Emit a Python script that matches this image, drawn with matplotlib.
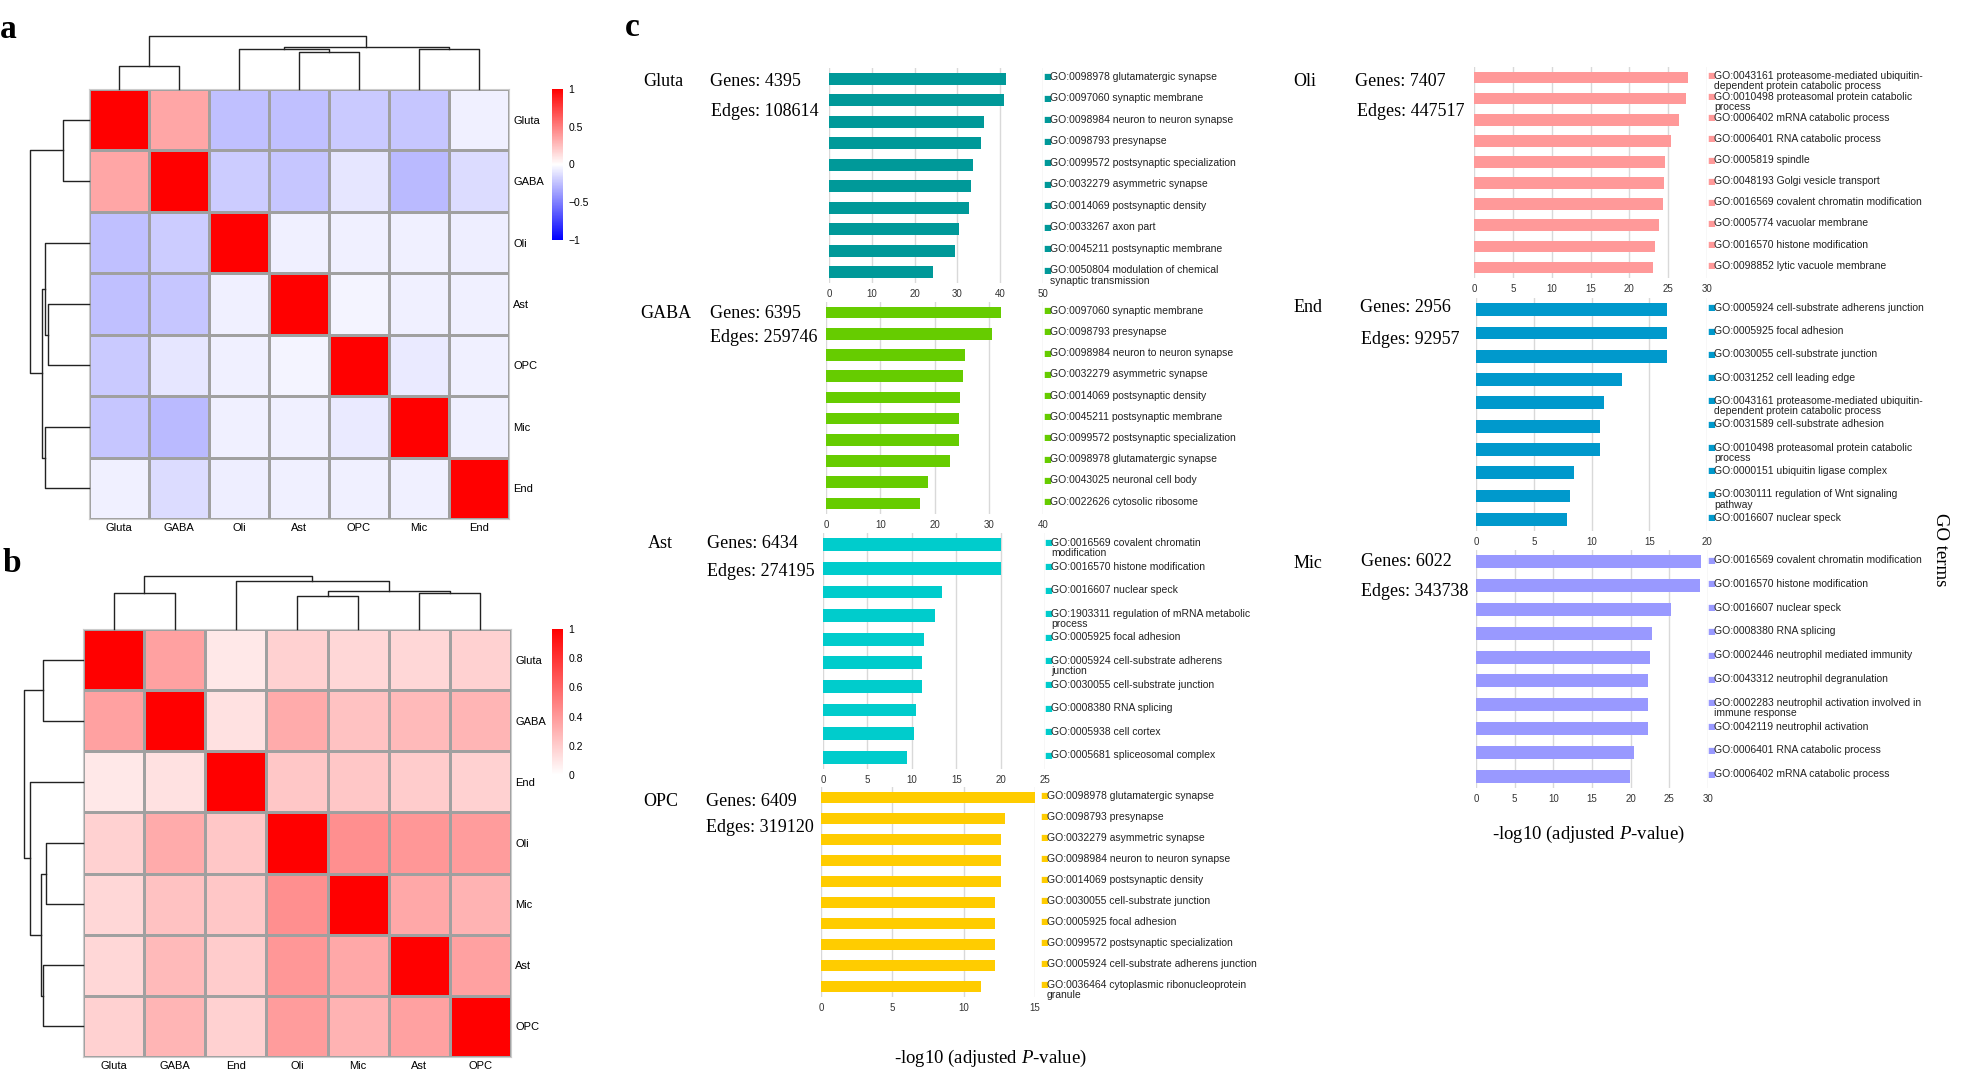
import numpy as np
import matplotlib.pyplot as plt
from matplotlib.colors import LinearSegmentedColormap
from matplotlib import transforms

plt.rcParams['font.family'] = ['Liberation Sans', 'DejaVu Sans']
plt.rcParams['mathtext.fontset'] = 'custom'
plt.rcParams['mathtext.rm'] = 'Liberation Serif'
plt.rcParams['mathtext.it'] = 'Liberation Serif:italic'

# ---------------- datos de los heatmaps ----------------
cells_a = ['Gluta', 'GABA', 'Oli', 'Ast', 'OPC', 'Mic', 'End']
corr_a = [
    [1.00, 0.35, -0.25, -0.25, -0.21, -0.22, -0.06],
    [0.35, 1.00, -0.20, -0.22, -0.10, -0.27, -0.14],
    [-0.25, -0.20, 1.00, -0.06, -0.06, -0.06, -0.07],
    [-0.25, -0.22, -0.06, 1.00, -0.04, -0.06, -0.06],
    [-0.21, -0.10, -0.06, -0.04, 1.00, -0.08, -0.06],
    [-0.22, -0.27, -0.06, -0.06, -0.08, 1.00, -0.06],
    [-0.06, -0.14, -0.07, -0.06, -0.06, -0.06, 1.00],
]
# (hijo1, hijo2, altura) ; hojas 0..6, nodos nuevos desde 7
link_a = [(0, 1, 0.44), (3, 4, 0.70), (2, 8, 0.75), (5, 6, 0.75), (9, 10, 0.80), (7, 11, 1.0)]

cells_b = ['Gluta', 'GABA', 'End', 'Oli', 'Mic', 'Ast', 'OPC']
corr_b = [
    [1.00, 0.37, 0.09, 0.18, 0.16, 0.16, 0.18],
    [0.37, 1.00, 0.12, 0.33, 0.24, 0.27, 0.29],
    [0.09, 0.12, 1.00, 0.22, 0.22, 0.20, 0.18],
    [0.18, 0.33, 0.22, 1.00, 0.44, 0.41, 0.39],
    [0.16, 0.24, 0.22, 0.44, 1.00, 0.34, 0.30],
    [0.16, 0.27, 0.20, 0.41, 0.34, 1.00, 0.37],
    [0.18, 0.29, 0.18, 0.39, 0.30, 0.37, 1.00],
]
link_b = [(0, 1, 0.68), (3, 4, 0.63), (5, 6, 0.68), (8, 9, 0.72), (2, 10, 0.90), (7, 11, 1.0)]

# ---------------- datos de enriquecimiento GO ----------------
groups = ['Gluta', 'GABA', 'Ast', 'OPC', 'Oli', 'End', 'Mic']
genes = [4395, 6395, 6434, 6409, 7407, 2956, 6022]
edges = [108614, 259746, 274195, 319120, 447517, 92957, 343738]

gluta_terms = ['GO:0098978 glutamatergic synapse', 'GO:0097060 synaptic membrane',
               'GO:0098984 neuron to neuron synapse', 'GO:0098793 presynapse',
               'GO:0099572 postsynaptic specialization', 'GO:0032279 asymmetric synapse',
               'GO:0014069 postsynaptic density', 'GO:0033267 axon part',
               'GO:0045211 postsynaptic membrane',
               'GO:0050804 modulation of chemical\nsynaptic transmission']
gluta_vals = [41.4, 40.8, 36.2, 35.5, 33.6, 33.1, 32.8, 30.4, 29.5, 24.3]

gaba_terms = ['GO:0097060 synaptic membrane', 'GO:0098793 presynapse',
              'GO:0098984 neuron to neuron synapse', 'GO:0032279 asymmetric synapse',
              'GO:0014069 postsynaptic density', 'GO:0045211 postsynaptic membrane',
              'GO:0099572 postsynaptic specialization', 'GO:0098978 glutamatergic synapse',
              'GO:0043025 neuronal cell body', 'GO:0022626 cytosolic ribosome']
gaba_vals = [32.2, 30.6, 25.6, 25.2, 24.7, 24.5, 24.5, 22.8, 18.8, 17.4]

ast_terms = ['GO:0016569 covalent chromatin\nmodification', 'GO:0016570 histone modification',
             'GO:0016607 nuclear speck', 'GO:1903311 regulation of mRNA metabolic\nprocess',
             'GO:0005925 focal adhesion', 'GO:0005924 cell-substrate adherens\njunction',
             'GO:0030055 cell-substrate junction', 'GO:0008380 RNA splicing',
             'GO:0005938 cell cortex', 'GO:0005681 spliceosomal complex']
ast_vals = [20.0, 20.0, 13.4, 12.6, 11.4, 11.1, 11.1, 10.5, 10.2, 9.5]

opc_terms = ['GO:0098978 glutamatergic synapse', 'GO:0098793 presynapse',
             'GO:0032279 asymmetric synapse', 'GO:0098984 neuron to neuron synapse',
             'GO:0014069 postsynaptic density', 'GO:0030055 cell-substrate junction',
             'GO:0005925 focal adhesion', 'GO:0099572 postsynaptic specialization',
             'GO:0005924 cell-substrate adherens junction',
             'GO:0036464 cytoplasmic ribonucleoprotein\ngranule']
opc_vals = [15.0, 12.9, 12.6, 12.6, 12.6, 12.2, 12.2, 12.2, 12.2, 11.2]

oli_terms = ['GO:0043161 proteasome-mediated ubiquitin-\ndependent protein catabolic process',
             'GO:0010498 proteasomal protein catabolic\nprocess', 'GO:0006402 mRNA catabolic process',
             'GO:0006401 RNA catabolic process', 'GO:0005819 spindle',
             'GO:0048193 Golgi vesicle transport', 'GO:0016569 covalent chromatin modification',
             'GO:0005774 vacuolar membrane', 'GO:0016570 histone modification',
             'GO:0098852 lytic vacuole membrane']
oli_vals = [27.5, 27.3, 26.4, 25.4, 24.6, 24.4, 24.3, 23.8, 23.3, 23.0]

end_terms = ['GO:0005924 cell-substrate adherens junction', 'GO:0005925 focal adhesion',
             'GO:0030055 cell-substrate junction', 'GO:0031252 cell leading edge',
             'GO:0043161 proteasome-mediated ubiquitin-\ndependent protein catabolic process',
             'GO:0031589 cell-substrate adhesion',
             'GO:0010498 proteasomal protein catabolic\nprocess', 'GO:0000151 ubiquitin ligase complex',
             'GO:0030111 regulation of Wnt signaling\npathway', 'GO:0016607 nuclear speck']
end_vals = [16.5, 16.5, 16.5, 12.6, 11.1, 10.7, 10.7, 8.5, 8.1, 7.9]

mic_terms = ['GO:0016569 covalent chromatin modification', 'GO:0016570 histone modification',
             'GO:0016607 nuclear speck', 'GO:0008380 RNA splicing',
             'GO:0002446 neutrophil mediated immunity', 'GO:0043312 neutrophil degranulation',
             'GO:0002283 neutrophil activation involved in\nimmune response',
             'GO:0042119 neutrophil activation', 'GO:0006401 RNA catabolic process',
             'GO:0006402 mRNA catabolic process']
mic_vals = [29.1, 29.0, 25.2, 22.8, 22.5, 22.2, 22.2, 22.2, 20.4, 19.9]

terms = {'Gluta': gluta_terms, 'GABA': gaba_terms, 'Ast': ast_terms, 'OPC': opc_terms,
         'Oli': oli_terms, 'End': end_terms, 'Mic': mic_terms}
vals = {'Gluta': gluta_vals, 'GABA': gaba_vals, 'Ast': ast_vals, 'OPC': opc_vals,
        'Oli': oli_vals, 'End': end_vals, 'Mic': mic_vals}

# posiciones (pixeles) y estilos de cada panel
layout = {
    'Gluta': dict(box=(829, 68, 1043, 283), xmax=50, step=10, leg=1043, name=(643, 82), gen=(710, 82), edg=(711, 111), color='#009999'),
    'GABA': dict(box=(826, 302, 1043, 514), xmax=40, step=10, leg=1043, name=(640, 314), gen=(710, 314), edg=(710, 338), color='#66CC00'),
    'Ast': dict(box=(823, 533, 1045, 769), xmax=25, step=5, leg=1044, name=(648, 543), gen=(707, 543), edg=(707, 572), color='#00CCCC'),
    'OPC': dict(box=(821, 787, 1035, 997), xmax=15, step=5, leg=1040, name=(643, 801), gen=(706, 801), edg=(706, 827), color='#FFCC00'),
    'Oli': dict(box=(1474, 67, 1707, 278), xmax=30, step=5, leg=1707, name=(1293, 82), gen=(1355, 82), edg=(1357, 111), color='#FF9999'),
    'End': dict(box=(1476, 298, 1707, 531), xmax=20, step=5, leg=1707, name=(1294, 308), gen=(1360, 308), edg=(1361, 339), color='#0099CC'),
    'Mic': dict(box=(1476, 550, 1708, 788), xmax=30, step=5, leg=1707, name=(1294, 563), gen=(1361, 561), edg=(1361, 592), color='#9999FF'),
}

W, H = 1961, 1070
fig = plt.figure(figsize=(W / 100, H / 100), dpi=100)


def add_ax(x0, y0, x1, y1):
    return fig.add_axes([x0 / W, 1 - y1 / H, (x1 - x0) / W, (y1 - y0) / H])


def draw_dendro(ax, links, n, orient):
    pos = {i: i + 0.5 for i in range(n)}
    hgt = {i: 0.0 for i in range(n)}
    for k, (a, b, h) in enumerate(links):
        p = [pos[a], pos[a], pos[b], pos[b]]
        q = [hgt[a], h, h, hgt[b]]
        if orient == 'top':
            ax.plot(p, q, color='#222222', lw=1.0, clip_on=False)
        else:
            ax.plot(q, p, color='#222222', lw=1.0, clip_on=False)
        pos[n + k] = (pos[a] + pos[b]) / 2
        hgt[n + k] = h
    if orient == 'top':
        ax.set_xlim(0, n)
        ax.set_ylim(0, 1)
    else:
        ax.set_ylim(n, 0)
        ax.set_xlim(1, 0)
    ax.axis('off')


def draw_heatmap(box, cbox, mat, labels, links, cmap, vmin, vmax, cticks, clabels):
    x0, y0, x1, y1 = box
    n = len(labels)
    ax = add_ax(x0, y0, x1, y1)
    mesh = ax.pcolormesh(np.array(mat), cmap=cmap, vmin=vmin, vmax=vmax,
                         edgecolors='#a0a0a0', linewidth=0.9)
    ax.set_xlim(0, n)
    ax.set_ylim(n, 0)
    ax.set_xticks(np.arange(n) + 0.5)
    ax.set_xticklabels(labels, fontsize=8)
    ax.yaxis.tick_right()
    ax.set_yticks(np.arange(n) + 0.5)
    ax.set_yticklabels(labels, fontsize=8)
    ax.tick_params(length=0, pad=3)
    for s in ax.spines.values():
        s.set_color('#cccccc')
    # dendrogramas
    dtop = add_ax(x0, y0 - 53, x1, y0)
    draw_dendro(dtop, links, n, 'top')
    dleft = add_ax(x0 - 59, y0, x0, y1)
    draw_dendro(dleft, links, n, 'left')
    cax = add_ax(*cbox)
    cb = fig.colorbar(mesh, cax=cax)
    cb.outline.set_visible(False)
    cb.set_ticks(cticks)
    cb.set_ticklabels(clabels)
    cax.tick_params(length=0, labelsize=7.5, pad=4)


draw_heatmap((89, 89, 509, 519), (552, 89, 563, 240), corr_a, cells_a, link_a, 'bwr', -1, 1,
             [1, 0.5, 0, -0.5, -1], ['1', '0.5', '0', '\u22120.5', '\u22121'])
white_red = LinearSegmentedColormap.from_list('wr', ['#ffffff', '#ff0000'])
draw_heatmap((83, 629, 511, 1057), (552, 629, 563, 775), corr_b, cells_b, link_b, white_red, 0, 1,
             [0, 0.2, 0.4, 0.6, 0.8, 1], ['0', '0.2', '0.4', '0.6', '0.8', '1'])

# ---------------- paneles de barras ----------------
for g, ng, ne in zip(groups, genes, edges):
    L = layout[g]
    ax = add_ax(*L['box'])
    v = vals[g]
    y = np.arange(len(v))
    ax.barh(y, v, height=0.55, color=L['color'], zorder=2)
    ax.set_ylim(len(v) - 0.5, -0.5)
    ax.set_xlim(0, L['xmax'])
    ax.set_xticks(np.arange(0, L['xmax'] + 0.1, L['step']))
    ax.grid(axis='x', color='#d9d9d9', lw=1, zorder=0)
    ax.set_yticks([])
    for s in ax.spines.values():
        s.set_visible(False)
    ax.tick_params(axis='x', length=0, labelsize=7, pad=4, labelcolor='#333333')

    trans = transforms.blended_transform_factory(fig.transFigure, ax.transData)
    for i, t in enumerate(terms[g]):
        ax.annotate('\u25a0', xy=(L['leg'] / W, i), xycoords=trans, xytext=(0, 4.6),
                    textcoords='offset points', va='top', ha='left', fontsize=6,
                    color=L['color'], family='DejaVu Sans', annotation_clip=False)
        ax.annotate(t, xy=((L['leg'] + 7) / W, i), xycoords=trans, xytext=(0, 4.9),
                    textcoords='offset points', va='top', ha='left', fontsize=7.5,
                    color='#222222', linespacing=1.05, annotation_clip=False)

    fig.text(L['name'][0] / W, 1 - L['name'][1] / H, g, family='Liberation Serif',
             fontsize=13, va='center', ha='left')
    fig.text(L['gen'][0] / W, 1 - L['gen'][1] / H, f'Genes: {ng}', family='Liberation Serif',
             fontsize=13, va='center', ha='left')
    fig.text(L['edg'][0] / W, 1 - L['edg'][1] / H, f'Edges: {ne}', family='Liberation Serif',
             fontsize=13, va='center', ha='left')

xlab = '-log10 (adjusted $\\mathit{P}$-value)'
fig.text(990 / W, 1 - 1058 / H, xlab, family='Liberation Serif', fontsize=13.5, ha='center', va='center')
fig.text(1588 / W, 1 - 834 / H, xlab, family='Liberation Serif', fontsize=13.5, ha='center', va='center')
fig.text(1941 / W, 1 - 550 / H, 'GO terms', family='Liberation Serif', fontsize=13.5,
         rotation=-90, ha='center', va='center')

# etiquetas de panel
for lab, px, py in [('a', 8, 30), ('b', 12, 563), ('c', 632, 27)]:
    fig.text(px / W, 1 - py / H, lab, family='Liberation Serif', fontsize=24,
             fontweight='bold', ha='center', va='center')

fig.savefig('out.png', dpi=100, facecolor='white')
